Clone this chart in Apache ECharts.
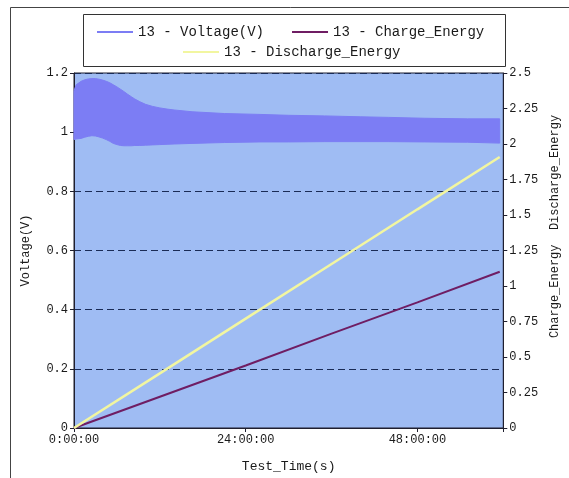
<!DOCTYPE html>
<html>
<head>
<meta charset="utf-8">
<script src="https://cdn.jsdelivr.net/npm/echarts@6/dist/echarts.min.js"></script>
<style>html,body{margin:0;padding:0;background:#fff}#c{width:569px;height:478px}</style>
</head>
<body>
<div id="c"></div>
<script>
// Voltage band (rapid oscillation) — envelope, time in hours
const bandHours = [0, 0.3, 1, 1.5, 2, 2.5, 3, 3.5, 4, 4.5, 5, 5.5, 6, 6.5, 7, 7.5, 8, 8.5, 9.2, 10, 11, 12, 13, 14, 16.5, 21, 26, 30, 35, 40, 44, 49, 55, 59.5];
const voltUpper = [1.14, 1.16, 1.172, 1.177, 1.18, 1.181, 1.181, 1.179, 1.176, 1.172, 1.167, 1.16, 1.153, 1.145, 1.137, 1.128, 1.12, 1.112, 1.103, 1.094, 1.087, 1.082, 1.078, 1.075, 1.069, 1.063, 1.06, 1.057, 1.055, 1.052, 1.05, 1.047, 1.045, 1.045];
const voltLower = [0.975, 0.977, 0.979, 0.983, 0.986, 0.988, 0.987, 0.984, 0.98, 0.975, 0.969, 0.962, 0.958, 0.955, 0.954, 0.954, 0.954, 0.955, 0.955, 0.956, 0.957, 0.958, 0.959, 0.96, 0.962, 0.965, 0.967, 0.967, 0.968, 0.968, 0.968, 0.967, 0.966, 0.963];

// Energy lines, time in hours
const energyHours = [0, 12, 24, 36, 48, 59.5];
const chargeEnergy = [0, 0.22, 0.44, 0.665, 0.885, 1.10];
const dischargeEnergy = [0, 0.385, 0.77, 1.155, 1.54, 1.908];

const seriesNames = ['13 - Voltage(V)', '13 - Charge_Energy', '13 - Discharge_Energy'];
const xTickHours = [0, 24, 48];

const toSec = h => h * 3600;
const mono = 'Liberation Mono';
const lineIcon = 'path://M0,0L36,0L36,2L0,2Z';
const bandColor = '#7c7df4';

const chart = echarts.init(document.getElementById('c'), null, {renderer: 'canvas'});
chart.setOption({
  animation: false,
  backgroundColor: '#ffffff',
  graphic: [
    {type: 'rect', z: 0, shape: {x: 10.5, y: 7.5, width: 600, height: 500}, style: {fill: 'none', stroke: '#444', lineWidth: 1}},
    {type: 'rect', z: 1, shape: {x: 83.5, y: 14.5, width: 422, height: 52}, style: {fill: '#fff', stroke: '#333', lineWidth: 1}}
  ],
  legend: [
    {data: [{name: seriesNames[0], icon: lineIcon}, {name: seriesNames[1], icon: lineIcon}],
     left: 92, top: 20, itemGap: 28, itemWidth: 36, itemHeight: 2,
     textStyle: {fontFamily: mono, fontSize: 14, color: '#1a1a1a'}, z: 5},
    {data: [{name: seriesNames[2], icon: lineIcon}], left: 178, top: 40, itemWidth: 36, itemHeight: 2,
     textStyle: {fontFamily: mono, fontSize: 14, color: '#1a1a1a'}, z: 5}
  ],
  grid: {left: 74, right: 62, top: 73, bottom: 50, show: true, backgroundColor: '#9fbcf3', borderColor: '#1f1f2f', borderWidth: 1},
  xAxis: {
    type: 'value', min: 0, max: toSec(60), interval: toSec(24),
    name: 'Test_Time(s)', nameLocation: 'middle', nameGap: 32,
    nameTextStyle: {fontFamily: mono, fontSize: 13, color: '#1a1a1a'},
    axisLine: {show: true, lineStyle: {color: '#1f1f2f'}},
    axisTick: {show: true, length: 4, lineStyle: {color: '#1f1f2f'}},
    axisLabel: {fontFamily: mono, fontSize: 12, color: '#1a1a1a', margin: 6,
      formatter: v => xTickHours.includes(v / 3600) ? (v / 3600) + ':00:00' : ''},
    splitLine: {show: false}
  },
  yAxis: [
    {type: 'value', min: 0, max: 1.2, interval: 0.2, position: 'left',
     name: 'Voltage(V)', nameLocation: 'middle', nameGap: 42, nameRotate: 90,
     nameTextStyle: {fontFamily: mono, fontSize: 12, color: '#1a1a1a'},
     axisLine: {show: true, lineStyle: {color: '#1f1f2f'}},
     axisTick: {show: true, length: 4, lineStyle: {color: '#1f1f2f'}},
     axisLabel: {fontFamily: mono, fontSize: 12, color: '#1a1a1a', margin: 6},
     splitLine: {show: true, lineStyle: {color: '#1a2b55', type: [7, 4], width: 1.2}}},
    {type: 'value', min: 0, max: 2.5, interval: 0.25, position: 'right',
     name: 'Charge_Energy  Discharge_Energy', nameLocation: 'middle', nameGap: 33, nameRotate: 90,
     nameTextStyle: {fontFamily: mono, fontSize: 12, color: '#1a1a1a', padding: [0, 0, 0, 48]},
     axisLine: {show: true, lineStyle: {color: '#1f1f2f'}},
     axisTick: {show: true, length: 4, lineStyle: {color: '#1f1f2f'}},
     axisLabel: {fontFamily: mono, fontSize: 12, color: '#1a1a1a', margin: 6},
     splitLine: {show: false}}
  ],
  series: [
    {name: seriesNames[0], type: 'custom', yAxisIndex: 0, itemStyle: {color: bandColor},
     encode: {x: 0, y: [1, 2]},
     data: bandHours.map((h, i) => [toSec(h), voltUpper[i], voltLower[i]]),
     renderItem: function (params, api) {
       if (params.dataIndex !== 0) return null;
       const pts = [];
       for (let i = 0; i < bandHours.length; i++) pts.push(api.coord([toSec(bandHours[i]), voltUpper[i]]));
       for (let i = bandHours.length - 1; i >= 0; i--) pts.push(api.coord([toSec(bandHours[i]), voltLower[i]]));
       return {type: 'polygon', shape: {points: pts}, style: {fill: bandColor, stroke: bandColor, lineWidth: 1}};
     }},
    {name: seriesNames[1], type: 'line', yAxisIndex: 1, showSymbol: false, symbol: 'none',
     color: '#6f1d63', lineStyle: {width: 2, color: '#6f1d63'},
     data: energyHours.map((h, i) => [toSec(h), chargeEnergy[i]])},
    {name: seriesNames[2], type: 'line', yAxisIndex: 1, showSymbol: false, symbol: 'none',
     color: '#f2f6a0', lineStyle: {width: 2.5, color: '#f2f6a0'},
     data: energyHours.map((h, i) => [toSec(h), dischargeEnergy[i]])}
  ]
});
</script>
</body>
</html>
